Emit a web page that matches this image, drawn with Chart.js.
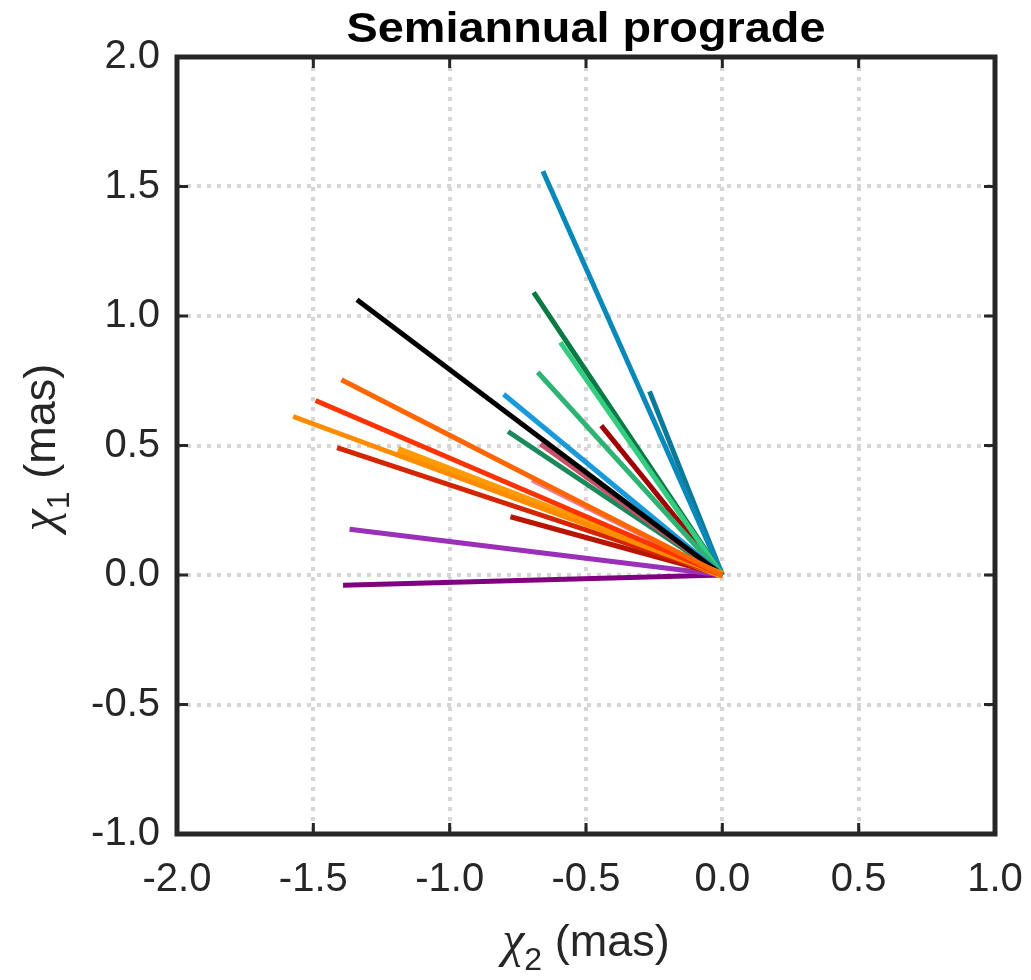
<!DOCTYPE html>
<html>
<head>
<meta charset="utf-8">
<script src="https://cdn.jsdelivr.net/npm/chart.js@4/dist/chart.umd.min.js"></script>
<style>
  html, body { margin: 0; padding: 0; background: #fff; }
  #wrap { width: 1031px; height: 980px; }
</style>
</head>
<body>
<div id="wrap"><canvas id="phasors" width="1031" height="980"></canvas></div>
<script>
// end points of each semiannual prograde phasor (mas); every one starts at the origin
const chi2End = [-1.397, -1.492, -1.574, -1.413, -1.19, -0.777, -1.367, -1.391, -0.698,
                 -1.34, -0.667, -0.802, -0.786, -0.677, -0.594, -0.692, -0.444, -0.658, -0.267];
const chi1End = [0.754, 0.674, 0.612, 0.492, 0.483, 0.225, 0.177, -0.040, 0.367,
                 1.063, 0.506, 0.698, 0.554, 0.783, 0.898, 1.091, 0.577, 1.559, 0.709];

const xTicks = [-2.0, -1.5, -1.0, -0.5, 0.0, 0.5, 1.0];
const yTicks = [-1.0, -0.5, 0.0, 0.5, 1.0, 1.5, 2.0];

const lineColors = ['#FF6600', '#FF3300', '#FF8C00', '#D42400', '#FF9A00', '#B81400', '#9B30B8',
                    '#800080', '#E8809A', '#000000', '#C8506A', '#1A9AD8', '#1A8A5A', '#2EB374',
                    '#33CC80', '#0A7A45', '#A00000', '#0A88B8', '#0A7A9A'];
const lineWidths = [5, 5, 5, 5, 8, 5, 5, 5, 5, 5, 5, 5, 5, 5, 5, 5, 5, 5, 5];

const ink = '#262626';

const datasets = chi2End.map((x, i) => ({
  data: [{ x: 0, y: 0 }, { x: x, y: chi1End[i] }],
  showLine: true,
  borderColor: lineColors[i],
  borderWidth: lineWidths[i],
  borderCapStyle: 'butt',
  pointRadius: 0,
  pointHoverRadius: 0,
}));

// frame box with inward ticks on all four sides
const framePlugin = {
  id: 'frame',
  afterDatasetsDraw(chart) {
    const { ctx, chartArea: a, scales } = chart;
    ctx.save();
    ctx.strokeStyle = ink;
    ctx.lineWidth = 3;
    ctx.beginPath();
    const tl = 11;
    xTicks.forEach(v => {
      const px = scales.x.getPixelForValue(v);
      ctx.moveTo(px, a.top); ctx.lineTo(px, a.top + tl);
      ctx.moveTo(px, a.bottom); ctx.lineTo(px, a.bottom - tl);
    });
    yTicks.forEach(v => {
      const py = scales.y.getPixelForValue(v);
      ctx.moveTo(a.left, py); ctx.lineTo(a.left + tl, py);
      ctx.moveTo(a.right, py); ctx.lineTo(a.right - tl, py);
    });
    ctx.stroke();
    ctx.lineWidth = 5;
    ctx.strokeRect(a.left, a.top, a.right - a.left, a.bottom - a.top);
    ctx.restore();
  }
};

// chi with a subscript, then the unit
function drawAxisLabel(ctx, idx, cx, baseline) {
  const parts = [
    { t: '\u03C7', f: 'italic 50px "Liberation Serif"', dy: 0 },
    { t: idx, f: '32px "Liberation Sans"', dy: 14 },
    { t: ' (mas)', f: '45px "Liberation Sans"', dy: 0 },
  ];
  let total = 0;
  parts.forEach(p => { ctx.font = p.f; p.w = ctx.measureText(p.t).width; total += p.w; });
  let x = cx - total / 2;
  ctx.textAlign = 'left';
  ctx.textBaseline = 'alphabetic';
  parts.forEach(p => {
    ctx.font = p.f;
    ctx.fillText(p.t, x, baseline + p.dy);
    x += p.w;
  });
}

const labelsPlugin = {
  id: 'labels',
  afterDraw(chart) {
    const { ctx, chartArea: a } = chart;
    const cx = (a.left + a.right) / 2;
    const cy = (a.top + a.bottom) / 2;
    ctx.save();
    ctx.fillStyle = '#000';

    // title, stretched a little wider like the exported figure
    ctx.font = 'bold 42px "Liberation Sans"';
    const title = 'Semiannual prograde';
    const w = ctx.measureText(title).width;
    const sx = 479 / w;
    ctx.save();
    ctx.translate(cx, 42);
    ctx.scale(sx, 1);
    ctx.textAlign = 'center';
    ctx.textBaseline = 'alphabetic';
    ctx.fillText(title, 0, 0);
    ctx.restore();

    ctx.fillStyle = ink;
    drawAxisLabel(ctx, '2', cx, 956);

    ctx.save();
    ctx.translate(55, cy + 2);
    ctx.rotate(-Math.PI / 2);
    drawAxisLabel(ctx, '1', 0, 0);
    ctx.restore();

    ctx.restore();
  }
};

const tickFont = { family: '"Liberation Sans", Arial, sans-serif', size: 40 };

new Chart(document.getElementById('phasors'), {
  type: 'scatter',
  data: { datasets },
  options: {
    responsive: false,
    animation: false,
    events: [],
    layout: { padding: { top: 57, right: 36, left: 0, bottom: 0 } },
    plugins: { legend: { display: false }, tooltip: { enabled: false }, title: { display: false } },
    scales: {
      x: {
        type: 'linear',
        min: -2, max: 1,
        afterBuildTicks: s => { s.ticks = xTicks.map(v => ({ value: v })); },
        afterFit: s => { s.height = 980 - 834; s.paddingLeft = 0; s.paddingRight = 0; },
        ticks: { font: tickFont, color: ink, padding: 22, maxRotation: 0,
                 callback: v => v.toFixed(1) },
        grid: { color: '#d6d6d6', lineWidth: 4, drawTicks: false },
        border: { display: false, dash: [4, 6] },
      },
      y: {
        type: 'linear',
        min: -1, max: 2,
        afterBuildTicks: s => { s.ticks = yTicks.map(v => ({ value: v })); },
        afterFit: s => { s.width = 177; s.paddingTop = 0; s.paddingBottom = 0; },
        ticks: { font: tickFont, color: ink, padding: 17,
                 callback: v => v.toFixed(1) },
        grid: { color: '#d6d6d6', lineWidth: 4, drawTicks: false },
        border: { display: false, dash: [4, 6] },
      },
    },
  },
  plugins: [framePlugin, labelsPlugin],
});
</script>
</body>
</html>
